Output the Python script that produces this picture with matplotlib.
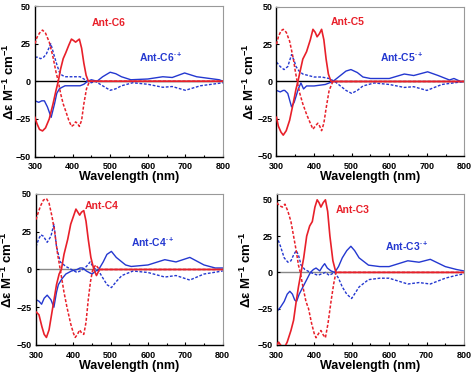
import matplotlib.pyplot as plt
from matplotlib.ticker import MultipleLocator

plt.rcParams['font.family'] = ['Liberation Sans', 'DejaVu Sans']
plt.rcParams['font.weight'] = 'bold'
plt.rcParams['mathtext.fontset'] = 'custom'
plt.rcParams['mathtext.rm'] = 'Liberation Sans:bold'
plt.rcParams['mathtext.bf'] = 'Liberation Sans:bold'
plt.rcParams['mathtext.it'] = 'Liberation Sans:bold'

RED = '#e8202a'
BLUE = '#2438d0'

# ---- Ant-C6 ----
c6_red_x = [300, 305, 312, 320, 328, 338, 348, 356, 362, 368, 375, 382, 390, 397, 403, 408, 413, 418, 424, 430, 436, 442, 450, 480, 800]
c6_red_y = [-24, -28, -32, -33, -31, -25, -15, -6, 0, 8, 15, 19, 24, 28, 27, 26, 27, 28, 22, 12, 4, 0, 0, 0, 0]
c6_redd_x = [300, 305, 312, 320, 328, 338, 348, 356, 362, 368, 375, 382, 390, 397, 403, 408, 413, 418, 424, 430, 437, 445, 455, 480, 800]
c6_redd_y = [25, 29, 32, 34, 32, 26, 16, 6, 0, -8, -15, -20, -26, -30, -29, -27, -28, -30, -26, -15, -5, 0, 0, 0, 0]
c6_blue_x = [300, 310, 318, 325, 333, 343, 352, 358, 365, 372, 380, 400, 420, 430, 440, 450, 465, 480, 500, 515, 530, 555, 600, 640, 665, 698, 730, 760, 790, 800]
c6_blue_y = [-13, -14, -13, -13, -17, -24, -15, -8, -5, -4, -3, -3, -3, -2, 0, 1, 0, 3, 6, 5, 3, 1, 1.5, 3, 2.5, 5.5, 3, 2, 1, 0]
c6_blued_x = [300, 308, 315, 323, 330, 342, 350, 357, 365, 372, 380, 400, 420, 440, 450, 460, 480, 500, 515, 530, 560, 600, 640, 665, 700, 740, 770, 800]
c6_blued_y = [16, 16, 15, 16, 18, 25, 18, 12, 6, 4, 3, 3, 3, 0, -1, 0, -3, -6, -5, -3, -1, -2, -4, -3.5, -6, -3, -2, -1]

# ---- Ant-C5 ----
c5_red_x = [300, 305, 312, 318, 326, 335, 345, 352, 357, 363, 370, 380, 390, 397, 403, 408, 414, 420, 426, 432, 438, 445, 455, 480, 800]
c5_red_y = [-24, -30, -34, -36, -33, -26, -14, -5, 0, 7, 15, 20, 28, 35, 33, 30, 32, 35, 28, 15, 5, 0, 0, 0, 0]
c5_redd_x = [300, 305, 312, 318, 326, 335, 345, 350, 355, 362, 370, 380, 390, 397, 403, 410, 415, 420, 426, 432, 440, 450, 460, 480, 800]
c5_redd_y = [25, 30, 34, 35, 33, 27, 15, 7, 0, -8, -15, -22, -28, -32, -30, -28, -30, -33, -28, -18, -6, 0, 0, 0, 0]
c5_blue_x = [300, 310, 318, 322, 330, 340, 347, 352, 358, 365, 372, 380, 400, 430, 450, 470, 485, 498, 515, 530, 550, 600, 640, 665, 702, 730, 760, 772, 790, 800]
c5_blue_y = [-6, -7, -6, -6, -8, -17, -14, -10, -5, -1, -5, -3, -3, -2, 0, 4, 7, 8, 6, 3, 2, 2, 5, 4, 6.5, 4, 1, 2, 0, 0]
c5_blued_x = [300, 310, 320, 330, 340, 347, 352, 360, 370, 385, 400, 420, 440, 455, 470, 485, 500, 515, 530, 560, 600, 640, 665, 700, 740, 770, 800]
c5_blued_y = [13, 10, 8, 10, 18, 14, 10, 7, 5, 4, 3, 3, 2, 0, -3, -6, -8, -6, -3, -1, -2, -4, -3.5, -6, -2, -1, 0]

# ---- Ant-C4 ----
c4_red_x = [300, 308, 316, 322, 328, 335, 345, 355, 362, 368, 375, 385, 393, 400, 407, 412, 417, 422, 428, 434, 440, 447, 455, 462, 470, 500, 800]
c4_red_y = [-28, -30, -38, -43, -45, -40, -25, -10, -3, 0, 10, 20, 30, 35, 40, 38, 36, 38, 39, 32, 20, 8, 0, -4, 0, 0, 0]
c4_redd_x = [300, 305, 312, 320, 328, 335, 343, 350, 358, 365, 375, 383, 393, 400, 405, 411, 417, 422, 428, 434, 440, 446, 452, 460, 470, 500, 800]
c4_redd_y = [33, 37, 42, 46, 47, 44, 35, 25, 10, 0, -15, -25, -36, -42, -45, -43, -40, -42, -43, -35, -20, -8, 0, 3, 0, 0, 0]
c4_blue_x = [300, 308, 315, 322, 330, 340, 348, 355, 360, 370, 380, 395, 410, 418, 425, 435, 450, 460, 468, 480, 490, 502, 515, 525, 540, 555, 600, 645, 675, 712, 750, 780, 800]
c4_blue_y = [-20, -21, -23, -19, -17, -20, -25, -15, -10, -6, -3, -1, 0, 1, 1, -1, -3, -1, 0, 5, 10, 12, 8, 6, 3, 2, 3, 6.5, 5, 8, 3, 1, 1]
c4_blued_x = [300, 307, 313, 320, 330, 340, 348, 355, 365, 380, 395, 410, 418, 425, 435, 445, 455, 468, 480, 490, 502, 515, 530, 560, 600, 645, 675, 712, 750, 800]
c4_blued_y = [15, 20, 23, 22, 18, 22, 30, 15, 5, 2, 0, -2, -1, 0, 2, 5, 1, -1, -6, -10, -12, -8, -4, -1, -2, -5, -4, -7, -3, -1]

# ---- Ant-C3 ----
c3_red_x = [300, 305, 310, 315, 320, 328, 338, 345, 352, 358, 365, 372, 380, 388, 395, 402, 408, 413, 418, 424, 430, 436, 442, 450, 458, 480, 800]
c3_red_y = [-50, -48, -50, -51, -52, -48, -40, -33, -20, -10, 0, 10, 25, 32, 35, 45, 50, 48, 45, 48, 50, 42, 25, 8, 0, 0, 0]
c3_redd_x = [300, 307, 315, 322, 330, 338, 345, 352, 358, 363, 370, 378, 385, 393, 400, 405, 412, 418, 424, 430, 437, 445, 452, 458, 480, 800]
c3_redd_y = [48, 46, 45, 47, 42, 35, 25, 15, 5, 0, -10, -20, -25, -35, -42, -45, -42, -40, -43, -45, -35, -20, -8, 0, 0, 0]
c3_blue_x = [300, 310, 320, 328, 335, 342, 348, 353, 360, 370, 380, 390, 398, 405, 415, 422, 428, 435, 445, 455, 465, 475, 487, 498, 508, 520, 545, 575, 600, 650, 680, 710, 750, 780, 800]
c3_blue_y = [-27, -24, -20, -15, -13, -15, -19, -20, -15, -10, -5, 0, 2, 3, 1, 4, 6, 3, 1, 0, 4, 10, 15, 18, 15, 10, 5, 4, 4, 8, 7, 9, 4, 2, 1]
c3_blued_x = [300, 310, 320, 330, 338, 345, 352, 358, 365, 375, 390, 400, 410, 420, 430, 440, 455, 465, 475, 487, 500, 510, 520, 545, 575, 600, 650, 680, 710, 750, 780, 800]
c3_blued_y = [25, 18, 10, 7, 8, 12, 15, 12, 5, 2, 0, -1, -2, -1, 0, -2, 0, -4, -10, -15, -18, -14, -10, -5, -4, -4, -8, -7, -8, -4, -2, -1]

panels = [
    dict(rect=[0.0738, 0.5804, 0.3966, 0.4035], name='Ant-C6', npos=(450, 39), rpos=(577, 16), ylim=(-50, 50), ylx=-0.098,
         red=(c6_red_x, c6_red_y), redd=(c6_redd_x, c6_redd_y),
         blue=(c6_blue_x, c6_blue_y), blued=(c6_blued_x, c6_blued_y), zc='black'),
    dict(rect=[0.5833, 0.5818, 0.3966, 0.3995], name='Ant-C5', npos=(445, 40), rpos=(576, 16), ylim=(-50, 50), ylx=-0.104,
         red=(c5_red_x, c5_red_y), redd=(c5_redd_x, c5_redd_y),
         blue=(c5_blue_x, c5_blue_y), blued=(c5_blued_x, c5_blued_y), zc='black'),
    dict(rect=[0.0759, 0.0751, 0.3939, 0.4048], name='Ant-C4', npos=(430, 42), rpos=(555, 18), ylim=(-50, 50), ylx=-0.112,
         red=(c4_red_x, c4_red_y), redd=(c4_redd_x, c4_redd_y),
         blue=(c4_blue_x, c4_blue_y), blued=(c4_blued_x, c4_blued_y), zc='#888888'),
    dict(rect=[0.5838, 0.0751, 0.3951, 0.4048], name='Ant-C3', npos=(457, 43), rpos=(590, 18), ylim=(-50, 54), ylx=-0.121,
         red=(c3_red_x, c3_red_y), redd=(c3_redd_x, c3_redd_y),
         blue=(c3_blue_x, c3_blue_y), blued=(c3_blued_x, c3_blued_y), zc='#888888'),
]

fig = plt.figure(figsize=(4.74, 3.73), dpi=100)

for p in panels:
    ax = fig.add_axes(p['rect'])
    ax.axhline(0, color=p['zc'], lw=1.0, zorder=1)
    ax.plot(*p['blued'], color=BLUE, lw=1.0, ls=(0, (2, 1.2)), zorder=2)
    ax.plot(*p['blue'], color=BLUE, lw=1.0, zorder=2)
    ax.plot(*p['redd'], color=RED, lw=1.1, ls=(0, (2, 1.2)), zorder=3)
    ax.plot(*p['red'], color=RED, lw=1.2, zorder=3)
    ax.set_xlim(300, 800)
    ax.set_ylim(*p['ylim'])
    ax.set_xticks([300, 400, 500, 600, 700, 800])
    ax.set_yticks([-50, -25, 0, 25, 50])
    ax.xaxis.set_minor_locator(MultipleLocator(50))
    ax.tick_params(direction='in', length=2.5, width=0.8, labelsize=6.5)
    ax.tick_params(axis='x', pad=4)
    ax.tick_params(axis='y', pad=3)
    ax.tick_params(which='minor', direction='in', length=1.5, width=0.8)
    for lab in ax.get_xticklabels() + ax.get_yticklabels():
        lab.set_fontweight('bold')
    for s in ['top', 'right']:
        ax.spines[s].set_color('#999999')
    for s in ['left', 'bottom']:
        ax.spines[s].set_color('black')
        ax.spines[s].set_linewidth(1.0)
    ax.set_xlabel('Wavelength (nm)', fontsize=9, fontweight='bold', labelpad=0)
    ax.set_ylabel('Δε M$^{-1}$ cm$^{-1}$', fontsize=9.5, fontweight='bold')
    ax.yaxis.set_label_coords(p['ylx'], 0.5)
    ax.text(p['npos'][0], p['npos'][1], p['name'], color=RED, fontsize=7.5,
            fontweight='bold', va='center', ha='left')
    ax.text(p['rpos'][0], p['rpos'][1], p['name'] + r'$^{\bullet +}$', color=BLUE,
            fontsize=7.5, fontweight='bold', va='center', ha='left')

fig.savefig('out.png', dpi=100)
